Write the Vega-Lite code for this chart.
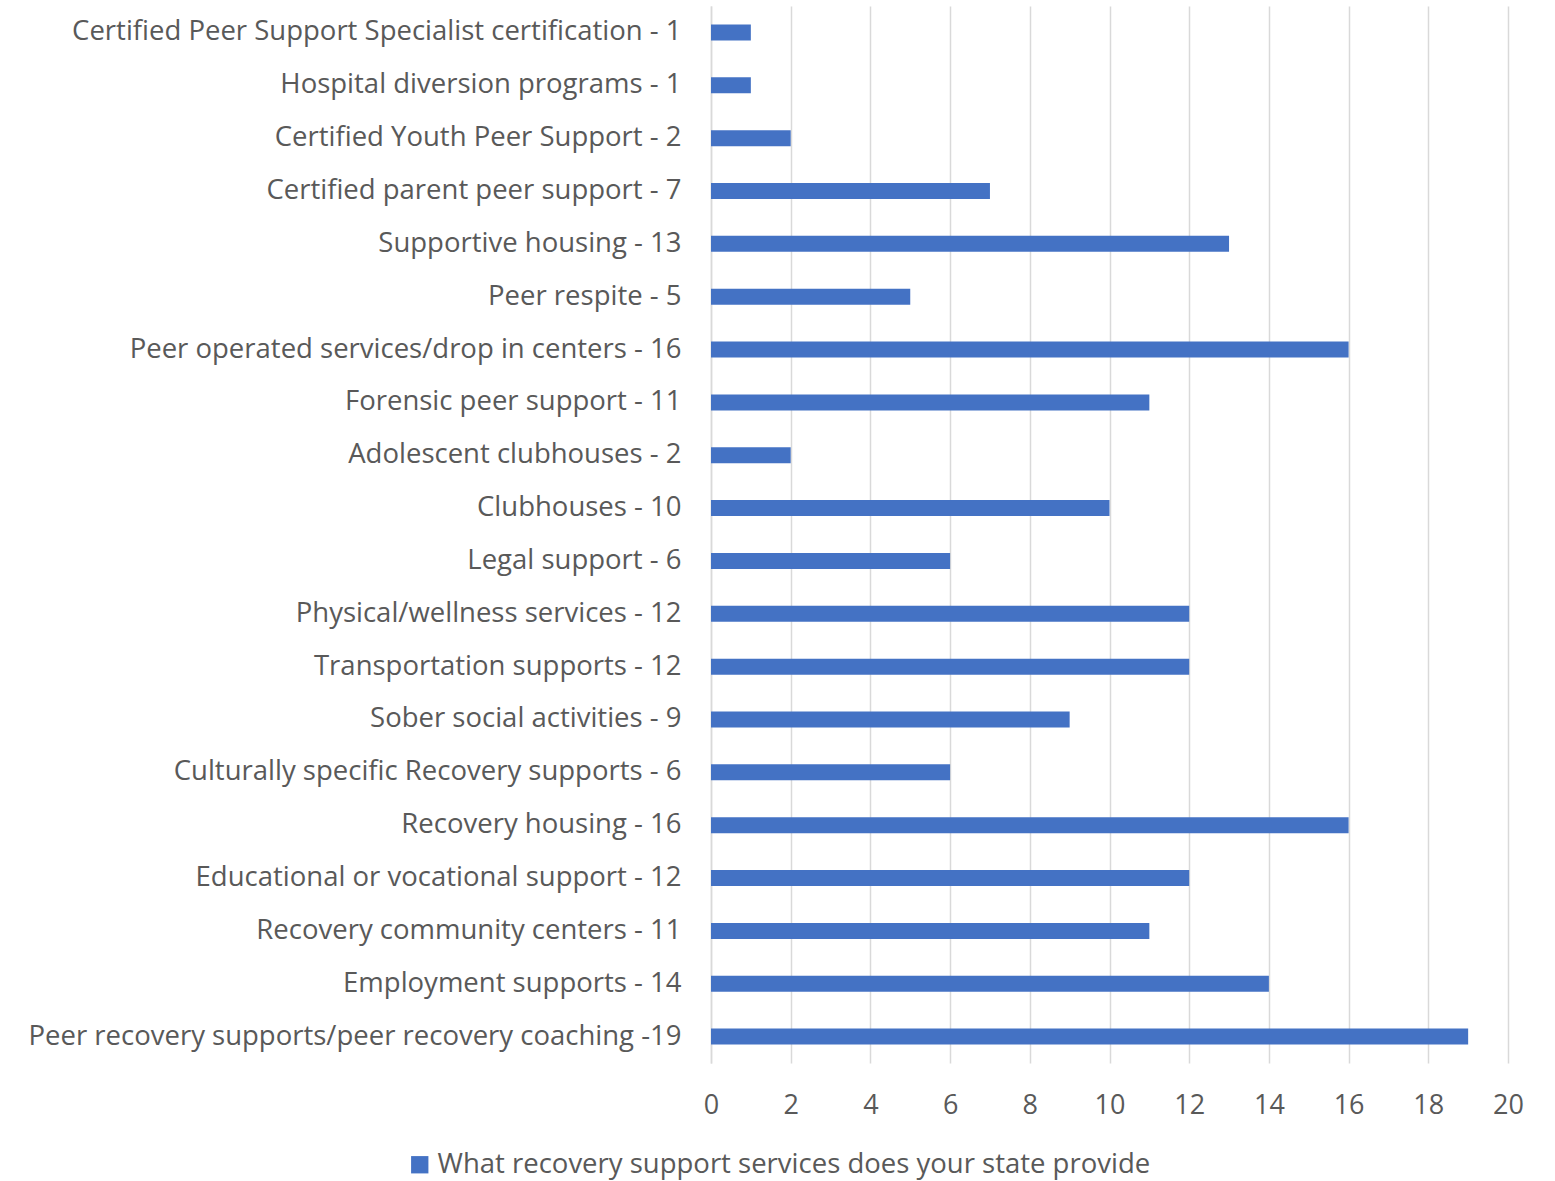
{
  "$schema": "https://vega.github.io/schema/vega-lite/v6.json",
  "width": 797,
  "height": 1057,
  "autosize": {"type": "none"},
  "padding": {"left": 711, "top": 6, "right": 47, "bottom": 118},
  "background": "white",
  "data": {
    "values": [
      {"label": "Certified Peer Support Specialist certification - 1", "value": 1, "series": "What recovery support services does your state provide"},
      {"label": "Hospital diversion programs - 1", "value": 1, "series": "What recovery support services does your state provide"},
      {"label": "Certified Youth Peer Support - 2", "value": 2, "series": "What recovery support services does your state provide"},
      {"label": "Certified parent peer support - 7", "value": 7, "series": "What recovery support services does your state provide"},
      {"label": "Supportive housing - 13", "value": 13, "series": "What recovery support services does your state provide"},
      {"label": "Peer respite - 5", "value": 5, "series": "What recovery support services does your state provide"},
      {"label": "Peer operated services/drop in centers - 16", "value": 16, "series": "What recovery support services does your state provide"},
      {"label": "Forensic peer support - 11", "value": 11, "series": "What recovery support services does your state provide"},
      {"label": "Adolescent clubhouses - 2", "value": 2, "series": "What recovery support services does your state provide"},
      {"label": "Clubhouses - 10", "value": 10, "series": "What recovery support services does your state provide"},
      {"label": "Legal support - 6", "value": 6, "series": "What recovery support services does your state provide"},
      {"label": "Physical/wellness services - 12", "value": 12, "series": "What recovery support services does your state provide"},
      {"label": "Transportation supports - 12", "value": 12, "series": "What recovery support services does your state provide"},
      {"label": "Sober social activities - 9", "value": 9, "series": "What recovery support services does your state provide"},
      {"label": "Culturally specific Recovery supports - 6", "value": 6, "series": "What recovery support services does your state provide"},
      {"label": "Recovery housing - 16", "value": 16, "series": "What recovery support services does your state provide"},
      {"label": "Educational or vocational support - 12", "value": 12, "series": "What recovery support services does your state provide"},
      {"label": "Recovery community centers - 11 ", "value": 11, "series": "What recovery support services does your state provide"},
      {"label": "Employment supports - 14", "value": 14, "series": "What recovery support services does your state provide"},
      {"label": "Peer recovery supports/peer recovery coaching -19", "value": 19, "series": "What recovery support services does your state provide"}
    ]
  },
  "mark": {"type": "bar", "size": 16},
  "encoding": {
    "y": {
      "field": "label",
      "type": "nominal",
      "sort": null,
      "title": null,
      "axis": {
        "labelFont": "Open Sans",
        "labelFontSize": 27.5,
        "labelColor": "#595959",
        "labelPadding": 30,
        "labelLimit": 800,
        "ticks": false,
        "domain": true,
        "domainColor": "#d9d9d9",
        "domainWidth": 1.5,
        "grid": false
      }
    },
    "x": {
      "field": "value",
      "type": "quantitative",
      "scale": {"domain": [0, 20], "nice": false},
      "title": null,
      "axis": {
        "values": [0, 2, 4, 6, 8, 10, 12, 14, 16, 18, 20],
        "labelFont": "Open Sans",
        "labelFontSize": 27,
        "labelColor": "#595959",
        "labelPadding": 29,
        "labelFlush": false,
        "ticks": false,
        "domain": false,
        "grid": true,
        "gridColor": "#d9d9d9",
        "gridWidth": 1.5
      }
    },
    "color": {
      "field": "series",
      "type": "nominal",
      "scale": {"range": ["#4472C4"]},
      "legend": {
        "orient": "none",
        "legendX": -305,
        "legendY": 1145,
        "title": null,
        "symbolType": "square",
        "symbolSize": 300,
        "symbolStrokeWidth": 0,
        "labelFont": "Open Sans",
        "labelFontSize": 27.5,
        "labelColor": "#595959",
        "labelLimit": 900
      }
    }
  },
  "config": {"view": {"stroke": null}}
}
